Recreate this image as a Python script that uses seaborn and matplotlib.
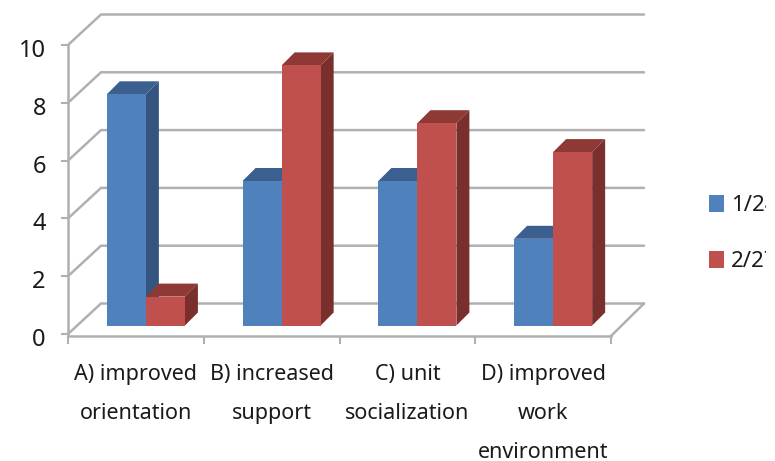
import matplotlib
matplotlib.use("Agg")
import matplotlib.pyplot as plt
from matplotlib.patches import Polygon
from matplotlib.transforms import Affine2D, Bbox
import pandas as pd
import seaborn as sns

categories = ["A) improved\norientation", "B) increased\nsupport",
              "C) unit\nsocialization", "D) improved\nwork\nenvironment"]
series_names = ["1/24", "2/27"]
values_first = [8, 5, 5, 3]
values_second = [1, 9, 7, 6]
y_ticks = [0, 2, 4, 6, 8, 10]

FRONT = ["#4F81BD", "#C0504D"]
TOP = ["#3B5F8E", "#8E3936"]
SIDE = ["#335580", "#7A2F2D"]
GRID = "#B0B0B0"
TEXT = "#1A1A1A"

W, H = 775, 461
sns.set_theme(style="white")
plt.rcParams["font.family"] = ["Noto Sans", "DejaVu Sans"]

frame = pd.DataFrame({
    "category": categories * 2,
    "series": [series_names[0]] * 4 + [series_names[1]] * 4,
    "value": values_first + values_second,
})

fig = plt.figure(figsize=(W / 100, H / 100), dpi=100, facecolor="white")
ax = fig.add_axes([68 / W, (H - 334) / H, 543 / W, 289 / H])

sns.barplot(data=frame, x="category", y="value", hue="series", order=categories,
            hue_order=series_names, palette=FRONT, width=0.575, gap=0,
            saturation=1, linewidth=0, ax=ax)
ax.set_xlim(-0.5, 3.5)
ax.set_ylim(0, 10)
ax.set_xlabel("")
ax.set_ylabel("")
ax.patch.set_visible(False)

# Pixel sizes expressed in data units for the oblique projection
px_x = 4 / 543
px_y = 10 / 289
wall_dx, wall_dy = 33 * px_x, 30.5 * px_y

# Back wall gridlines receding from the value axis, and the floor outline
for v in y_ticks:
    ax.plot([-0.5, -0.5 + wall_dx, 3.5 + wall_dx], [v, v + wall_dy, v + wall_dy],
            color=GRID, lw=1.8, clip_on=False, zorder=1, solid_joinstyle="miter")
ax.plot([3.5, 3.5 + wall_dx], [-2 * px_y, wall_dy], color=GRID, lw=1.8,
        clip_on=False, zorder=1)

# Bars sit part way into the floor; each gets a shaded top and side face
bar_shift = Affine2D().translate(10, 8.5)
depth_x, depth_y = 13 * px_x, 13 * px_y
for i, container in enumerate(ax.containers):
    z = 3 + i
    for bar in container:
        x0, x1 = bar.get_x(), bar.get_x() + bar.get_width()
        h = bar.get_height()
        transform = ax.transData + bar_shift
        bar.set_transform(transform)
        bar.set_clip_on(False)
        bar.set_zorder(z + 0.2)
        ax.add_patch(Polygon([(x1, 0), (x1 + depth_x, depth_y), (x1 + depth_x, h + depth_y), (x1, h)],
                             closed=True, fc=SIDE[i], ec="none", transform=transform,
                             clip_on=False, zorder=z))
        ax.add_patch(Polygon([(x0, h), (x0 + depth_x, h + depth_y), (x1 + depth_x, h + depth_y), (x1, h)],
                             closed=True, fc=TOP[i], ec="none", transform=transform,
                             clip_on=False, zorder=z + 0.1))

# Axes
for name in ("top", "right"):
    ax.spines[name].set_visible(False)
for name in ("left", "bottom"):
    ax.spines[name].set_color(GRID)
    ax.spines[name].set_linewidth(1.8)
ax.spines["bottom"].set_position(("outward", 1.4))
ax.set_yticks(y_ticks)
ax.set_xticks([k - 0.5 for k in range(5)], minor=True)
ax.tick_params(axis="y", which="major", left=True, length=5, width=1.5, color=GRID,
               pad=11, labelsize=17, labelcolor=TEXT)
ax.tick_params(axis="x", which="major", bottom=False, length=0, pad=20.5,
               labelsize=15.5, labelcolor=TEXT)
ax.tick_params(axis="x", which="minor", bottom=True, length=6, width=1.5, color=GRID)
for label in ax.get_xticklabels():
    label.set_linespacing(2.12)
    label.set_ha("center")
for label in ax.get_yticklabels():
    label.set_transform(label.get_transform() + Affine2D().translate(0, -3))

# Legend, cropped at the edge of the chart area
legend = ax.legend(loc="upper left", bbox_to_anchor=(700 / W, (H - 186) / H),
                   bbox_transform=fig.transFigure, frameon=False, fontsize=16,
                   handlelength=0.68, handleheight=0.82, handletextpad=0.32,
                   labelspacing=1.55, borderpad=0.4, borderaxespad=0)
clip = Bbox([[0, 0], [766, H]])
for text in legend.get_texts():
    text.set_color(TEXT)
    text.set_clip_on(True)
    text.set_clip_box(clip)

fig.savefig("out.png", dpi=100, facecolor="white")
